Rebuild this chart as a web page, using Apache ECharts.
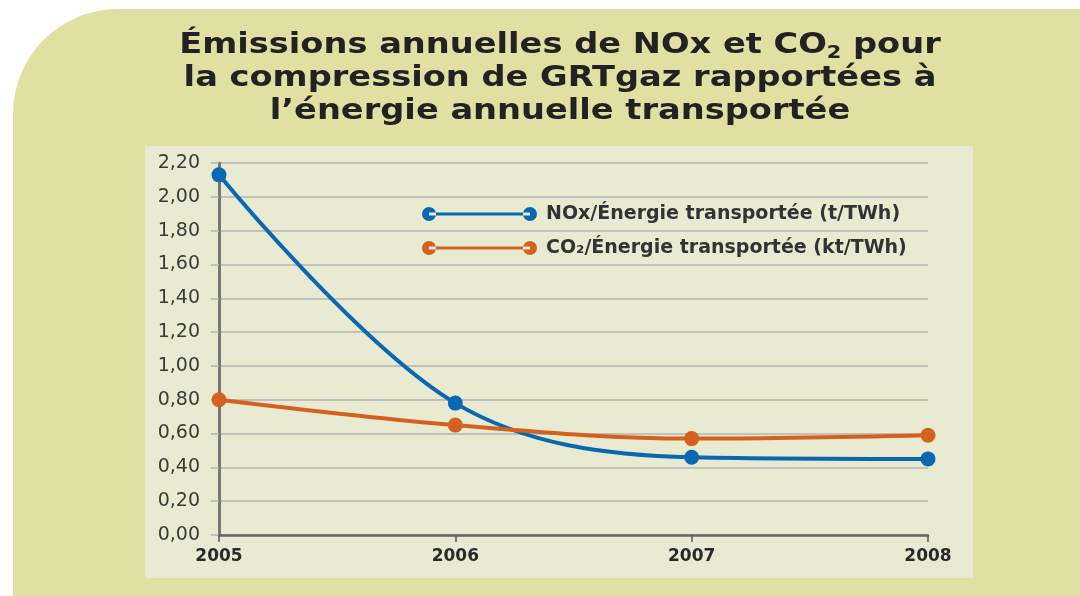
<!DOCTYPE html>
<html>
<head>
<meta charset="utf-8">
<script src="https://cdn.jsdelivr.net/npm/echarts@6/dist/echarts.min.js"></script>
<style>
  html, body { margin: 0; padding: 0; background: #fff; }
  #chart { width: 1080px; height: 596px; }
</style>
</head>
<body>
<div id="chart"></div>
<script>
  // années
  var years = ['2005', '2006', '2007', '2008'];
  // NOx / énergie transportée (t/TWh)
  var noxValues = [2.13, 0.78, 0.46, 0.45];
  // CO2 / énergie transportée (kt/TWh)
  var co2Values = [0.80, 0.65, 0.57, 0.59];
  var seriesNames = ['NOx/Énergie transportée (t/TWh)', 'CO₂/Énergie transportée (kt/TWh)'];
  var yMin = 0, yMax = 2.2, yStep = 0.2;

  var FONT = 'DejaVu Sans';
  // trait + deux pastilles pour la légende
  var dotLine = 'path://M0,7a7,7 0 1,0 14,0a7,7 0 1,0 -14,0Z M7,5.5L108,5.5L108,8.5L7,8.5Z M101,7a7,7 0 1,0 14,0a7,7 0 1,0 -14,0Z';

  var myChart = echarts.init(document.getElementById('chart'));
  var option = {
    backgroundColor: '#ffffff',
    animation: false,
    graphic: [
      {
        type: 'rect', z: -10, silent: true,
        shape: { x: 13, y: 9, width: 1067, height: 587, r: [105, 0, 0, 0] },
        style: { fill: '#dfe0a2' }
      },
      {
        type: 'rect', z: -9, silent: true,
        shape: { x: 145, y: 146, width: 828, height: 432 },
        style: { fill: '#e8ebd1' }
      },
      {
        // titre (étiré en largeur comme l'original)
        type: 'text', z: 10, silent: true,
        x: 560, y: 29,
        scaleX: 1.16,
        style: {
          text: '{t|Émissions annuelles de NOx et CO}{s|2}{t| pour}\n{t|la compression de GRTgaz rapportées à}\n{t|l’énergie annuelle transportée}',
          align: 'center',
          verticalAlign: 'top',
          rich: {
            t: { fontFamily: FONT, fontWeight: 'bold', fontSize: 29, lineHeight: 33, fill: '#222222' },
            s: { fontFamily: FONT, fontWeight: 'bold', fontSize: 18, lineHeight: 8, verticalAlign: 'bottom', fill: '#222222' }
          }
        }
      }
    ],
    legend: {
      orient: 'vertical',
      left: 417,
      top: 199,
      itemWidth: 115,
      itemHeight: 14,
      itemGap: 14,
      icon: dotLine,
      textStyle: { fontFamily: FONT, fontWeight: 'bold', fontSize: 19, lineHeight: 20, color: '#333333', padding: [0, 0, 0, 4] },
      data: seriesNames
    },
    grid: { left: 219, top: 163, right: 152, bottom: 61, containLabel: false },
    xAxis: {
      type: 'category',
      data: years,
      boundaryGap: false,
      axisLine: { lineStyle: { color: '#666666', width: 2.5 } },
      axisTick: { show: true, length: 7, lineStyle: { color: '#555555', width: 1.5 } },
      axisLabel: { fontFamily: FONT, fontWeight: 'bold', fontSize: 17, color: '#2a2a2a', margin: 13 },
      splitLine: { show: false }
    },
    yAxis: {
      type: 'value',
      min: yMin,
      max: yMax,
      interval: yStep,
      axisLine: { show: true, lineStyle: { color: '#777777', width: 3 } },
      axisTick: { show: true, length: 8, lineStyle: { color: '#b4b4b4', width: 1.5 } },
      axisLabel: {
        fontFamily: FONT, fontSize: 19, color: '#3a3a3a', margin: 19,
        formatter: function (v) { return v.toFixed(2).replace('.', ','); }
      },
      splitLine: { show: true, lineStyle: { color: '#b4b4b4', width: 1.5 } }
    },
    series: [
      {
        name: seriesNames[0],
        type: 'line',
        data: noxValues,
        smooth: 0.35,
        symbol: 'circle',
        symbolSize: 15,
        lineStyle: { width: 4, color: '#0a68b3' },
        itemStyle: { color: '#0a68b3' },
        z: 3
      },
      {
        name: seriesNames[1],
        type: 'line',
        data: co2Values,
        smooth: 0.35,
        symbol: 'circle',
        symbolSize: 15,
        lineStyle: { width: 4, color: '#d4611f' },
        itemStyle: { color: '#d4611f' },
        z: 4
      }
    ]
  };
  myChart.setOption(option);
</script>
</body>
</html>
